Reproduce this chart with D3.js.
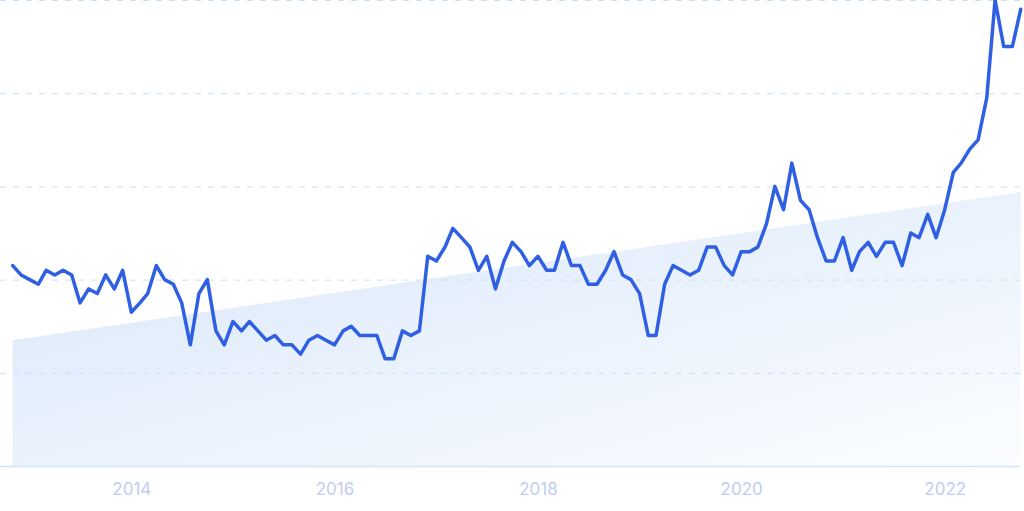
<!DOCTYPE html>
<html lang="en">
<head>
<meta charset="utf-8">
<title>Trend line</title>
<script src="https://d3js.org/d3.v7.min.js"></script>
<style>
  body { margin: 0; background: #fff; }
  svg { display: block; }
  .tick text { font-family: Inter, "Noto Sans", sans-serif; }
</style>
</head>
<body>
<script>
// monthly values, Nov 2012 .. Oct 2022
const startMonth = new Date(2012, 10, 1);
const values = [43, 41, 40, 39, 42, 41, 42, 41, 35, 38, 37, 41, 38, 42, 33, 35, 37, 43, 40, 39,
  35, 26, 37, 40, 29, 26, 31, 29, 31, 29, 27, 28, 26, 26, 24, 27, 28, 27, 26, 29,
  30, 28, 28, 28, 23, 23, 29, 28, 29, 45, 44, 47, 51, 49, 47, 42, 45, 38, 44, 48,
  46, 43, 45, 42, 42, 48, 43, 43, 39, 39, 42, 46, 41, 40, 37, 28, 28, 39, 43, 42,
  41, 42, 47, 47, 43, 41, 46, 46, 47, 52, 60, 55, 65, 57, 55, 49, 44, 44, 49, 42,
  46, 48, 45, 48, 48, 43, 50, 49, 54, 49, 55, 63, 65, 68, 70, 79, 100, 90, 90, 98];
const trendValues = [27, 58.8];           // trend at first and last month
const gridValues = [20, 40, 60, 80, 100];
const yearTicks = [2014, 2016, 2018, 2020, 2022];

const W = 1024, H = 511;
const data = values.map((v, i) => ({ date: d3.timeMonth.offset(startMonth, i), v: v }));
const lastDate = data[data.length - 1].date;

const x = d3.scaleTime().domain([startMonth, lastDate]).range([12.7, 1020.7]);
const y = d3.scaleLinear().domain([0, 100]).range([466, 0]);

const svg = d3.select("body").append("svg")
  .attr("width", W)
  .attr("height", H);

const defs = svg.append("defs");
const grad = defs.append("linearGradient")
  .attr("id", "trendFill")
  .attr("x1", "0%").attr("y1", "0%")
  .attr("x2", "100%").attr("y2", "100%");
grad.append("stop").attr("offset", "0%").attr("stop-color", "#d8e6fa");
grad.append("stop").attr("offset", "100%").attr("stop-color", "#fbfdff");

// trend area
const trend = [
  { date: startMonth, v: trendValues[0] },
  { date: lastDate, v: trendValues[1] }
];
svg.append("path")
  .datum(trend)
  .attr("fill", "url(#trendFill)")
  .attr("d", d3.area()
    .x(d => x(d.date))
    .y0(y(0))
    .y1(d => y(d.v)));

// grid
svg.append("g")
  .selectAll("line")
  .data(gridValues)
  .join("line")
  .attr("x1", 0)
  .attr("x2", 1020)
  .attr("y1", d => y(d) + 0.5)
  .attr("y2", d => y(d) + 0.5)
  .attr("stroke", "#c9def9")
  .attr("stroke-width", 1)
  .attr("stroke-dasharray", "6,7");

// baseline
svg.append("line")
  .attr("x1", 0).attr("x2", 1020)
  .attr("y1", y(0) + 0.5).attr("y2", y(0) + 0.5)
  .attr("stroke", "#d4e4fb")
  .attr("stroke-width", 1.5);

// line
svg.append("path")
  .datum(data)
  .attr("fill", "none")
  .attr("stroke", "#2f5fe3")
  .attr("stroke-width", 3.5)
  .attr("stroke-linejoin", "round")
  .attr("stroke-linecap", "round")
  .attr("d", d3.line().x(d => x(d.date)).y(d => y(d.v)));

// x axis
const xAxis = svg.append("g")
  .attr("transform", `translate(0,${y(0)})`)
  .call(d3.axisBottom(x)
    .tickValues(yearTicks.map(yr => new Date(yr, 0, 1)))
    .tickFormat(d3.timeFormat("%Y"))
    .tickSize(0)
    .tickPadding(17));
xAxis.select(".domain").remove();
xAxis.selectAll("text")
  .attr("fill", "#c3ccf3")
  .attr("font-size", 17);
</script>
</body>
</html>
